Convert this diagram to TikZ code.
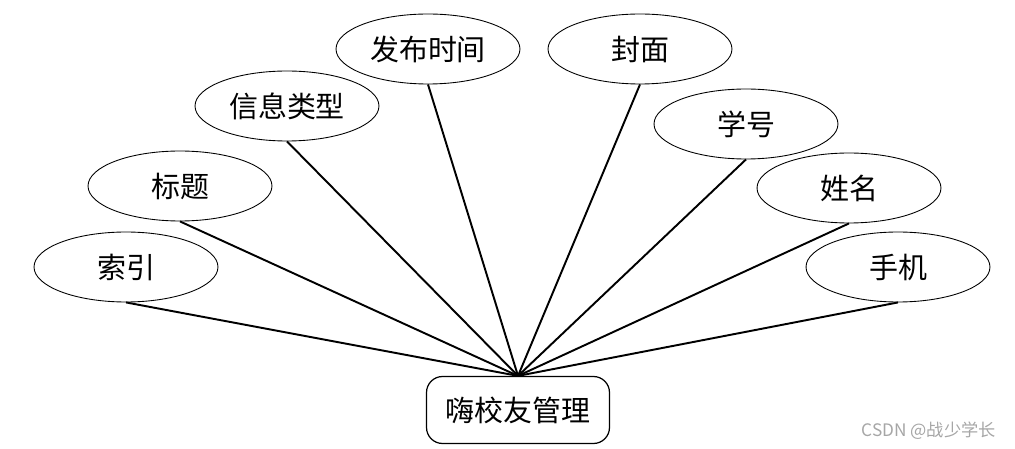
\documentclass[tikz,border=0pt]{standalone}
\usepackage{fontspec}
\setmainfont{Noto Sans CJK SC}
\usepackage{xcolor}
\usepackage{tikz}
\usetikzlibrary{shapes.geometric}

\begin{document}
\begin{tikzpicture}[x=0.02cm,y=-0.02cm,
		attr/.style={ellipse,draw,line width=0.5pt,minimum width=3.68cm,minimum height=1.4cm,inner sep=0pt,font=\fontsize{16.5}{18}\selectfont},
		entity/.style={rectangle,draw,line width=0.7pt,rounded corners=0.32cm,minimum width=3.66cm,minimum height=1.34cm,inner sep=0pt,font=\fontsize{16.5}{18}\selectfont},
		link/.style={line width=1.1pt}]
		% ---- Canvas (pixel grid of the reference) ----
		\useasboundingbox (0,0) rectangle (1015,449);
		
		% ---- Entity ----
		\node[entity] (mgr) at (518,410) {嗨校友管理};
		
		% ---- Attributes (name / x / y / label) ----
		\foreach \n/\x/\y/\t in {suoyin/126/267/索引, biaoti/180/186/标题, leixing/287/106/信息类型,
			shijian/428/49/发布时间, fengmian/640/49/封面, xuehao/746/124/学号,
			xingming/849/188/姓名, shouji/898/267/手机} {
			\node[attr] (\n) at (\x,\y) {\t};
			\draw[link] (\n.south) -- (mgr.north);
		}
		
		% ---- Watermark ----
		\node[anchor=east,text=gray!70,font=\fontsize{9.8}{11}\selectfont] (mark) at (1002,431) {CSDN @战少学长};
		
	\end{tikzpicture}
\end{document}
